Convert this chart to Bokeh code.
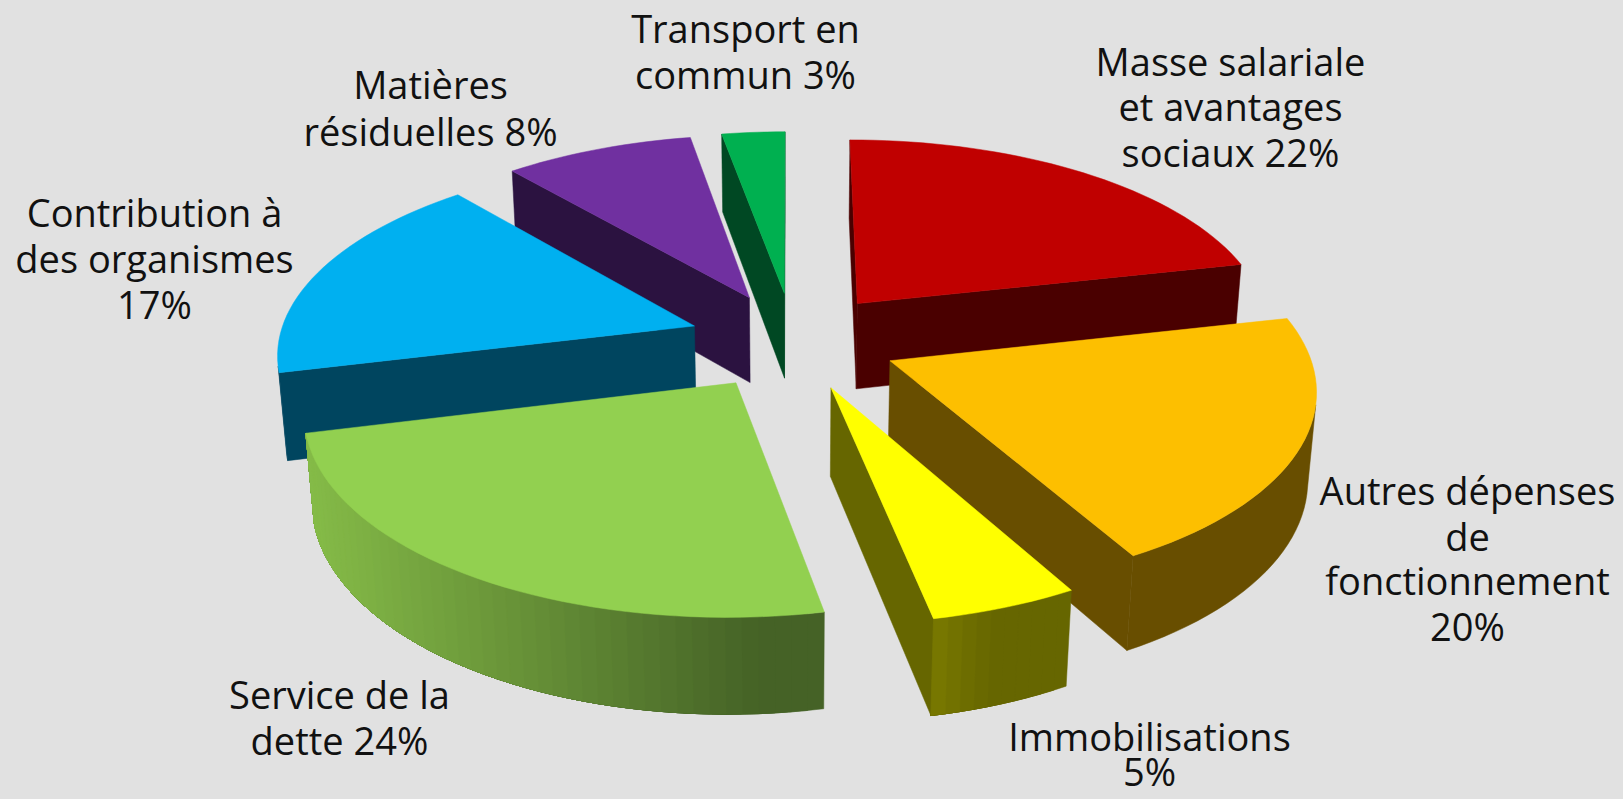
import numpy as np
from bokeh.plotting import figure
from bokeh.models import ColumnDataSource, Range1d
from bokeh.core.properties import value
from bokeh.embed import file_html
from bokeh.resources import INLINE

# Data (shares, agree with the rounded labels)
categories = ["Masse salariale et avantages sociaux", "Autres dépenses de fonctionnement",
              "Immobilisations", "Service de la dette", "Contribution à des organismes",
              "Matières résiduelles", "Transport en commun"]
shares = [21.50, 20.42, 4.93, 24.32, 17.54, 8.47, 2.82]
explode = [0.2517, 0.2507, 0.2522, 0.2512, 0.2525, 0.2538, 0.2537]
top_colors = ["#c00000", "#fdbf00", "#ffff00", "#92d050", "#00b0f0", "#7030a0", "#00b050"]
wall_colors = ["#4a0000", "#684e00", "#666600", "#456226", "#00455f", "#2b1240", "#004823"]

label_lines = ["Transport en", "commun 3%", "Masse salariale", "et avantages", "sociaux 22%",
               "Matières", "résiduelles 8%", "Contribution à", "des organismes", "17%",
               "Autres dépenses", "de", "fonctionnement", "20%", "Service de la", "dette 24%",
               "Immobilisations", "5%"]
label_x = [745, 745, 1230, 1230, 1230, 430, 430, 154, 154, 154, 1467, 1467, 1467, 1467, 339, 339, 1149, 1149]
label_base = [43, 89, 76, 121, 167, 99, 146, 227, 273, 319, 505, 551, 595, 641, 709, 755, 751, 786]

# Camera of the 3D pie
CX, CY, A, B, K, C, M, T0 = 792.9928, 340.1804, 415.8513, 193.2239, 0.1267, 88.1175, 0.0165, -0.0009
FONT_PX = 38

def project(X, Y, z):
    w = 1 + K * Y + M * z
    return CX + A * X / w, CY + (-B * Y + C * z) / w

def area(x, y):
    x = np.array(x); y = np.array(y)
    return .5 * np.sum(x * np.roll(y, -1) - np.roll(x, -1) * y)

def mix(c0, c1, f):
    return "#%02x%02x%02x" % tuple(int(u + (v - u) * f) for u, v in zip(c0, c1))

v = np.array(shares)
fr = v / v.sum() * 2 * np.pi
ends = np.cumsum(fr) + T0
starts = ends - fr
mids = (starts + ends) / 2

XS, YS, CS = [], [], []
def add(xs, ys, c):
    XS.append(list(xs)); YS.append(list(ys)); CS.append(c)

for i in [6, 5, 4, 0, 1, 2, 3]:  # painter's order
    X0, Y0 = explode[i] * np.sin(mids[i]), explode[i] * np.cos(mids[i])
    th = np.linspace(starts[i], ends[i], int(np.degrees(fr[i]) // 2) + 3)
    X = X0 + np.sin(th); Y = Y0 + np.cos(th)
    tx, ty = project(X, Y, 0)
    bx, by = project(X, Y, 1)
    px, py = project(X0, Y0, 0)
    qx, qy = project(X0, Y0, 1)
    # radial walls
    for idx in (0, -1):
        q = [px, tx[idx], bx[idx], qx]; s = [py, ty[idx], by[idx], qy]
        ar = area(q, s)
        if (ar < 0 if idx == 0 else ar > 0):
            add(q, s, wall_colors[i])
    # outer wall: only the steps facing the viewer
    steps = [j for j in range(len(th) - 1)
             if area([tx[j], tx[j + 1], bx[j + 1], bx[j]], [ty[j], ty[j + 1], by[j + 1], by[j]]) < 0]
    if steps:
        j0, j1 = steps[0], steps[-1] + 1
        if i in (2, 3):
            # nested polygons: each colour step overlaps the next, so no seams show
            for j in range(j0, j1):
                mx = (tx[j] + tx[j + 1]) / 2
                if i == 3:
                    c = mix((0x85, 0xbb, 0x48), (0x45, 0x62, 0x26), np.clip((mx - 310) / 450, 0, 1))
                else:
                    c = mix((0x7a, 0x7a, 0x00), (0x66, 0x66, 0x00), np.clip((mx - 933) / 60, 0, 1))
                add(list(tx[j:j1 + 1]) + list(bx[j:j1 + 1][::-1]), list(ty[j:j1 + 1]) + list(by[j:j1 + 1][::-1]), c)
        else:
            add(list(tx[j0:j1 + 1]) + list(bx[j0:j1 + 1][::-1]), list(ty[j0:j1 + 1]) + list(by[j0:j1 + 1][::-1]), wall_colors[i])
    add([px] + list(tx), [py] + list(ty), top_colors[i])

p = figure(width=1623, height=799, x_range=Range1d(0, 1623), y_range=Range1d(799, 0),
           output_backend="svg", toolbar_location=None, min_border=0,
           x_axis_type=None, y_axis_type=None,
           background_fill_color="#e1e1e1", border_fill_color="#e1e1e1", outline_line_color=None)
p.grid.visible = False
p.patches("xs", "ys", source=ColumnDataSource(dict(xs=XS, ys=YS, c=CS)),
          fill_color="c", line_color="c", line_width=0.5)
p.text(label_x, [y - FONT_PX * 0.36 - 2 for y in label_base], text=label_lines, text_font=value("Open Sans"),
       text_font_size=f"{FONT_PX}px", text_align="center", text_baseline="middle", text_color="#111111")

html = file_html(p, INLINE).replace("</head>", "<style>html,body{margin:0;background:#e1e1e1}</style></head>")
open("out.html", "w").write(html)
